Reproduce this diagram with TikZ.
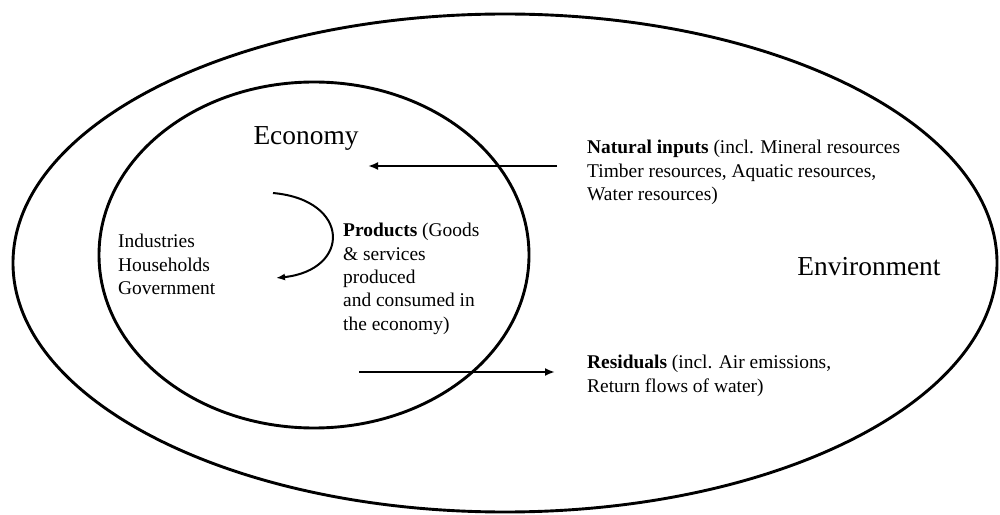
\documentclass[tikz,border=0pt]{standalone}
\usepackage{fontspec}
\setmainfont{Liberation Serif}
\usetikzlibrary{arrows.meta}
\tikzset{
  ring/.style={draw=black, line width=2.9bp},
  flow/.style={draw=black, line width=2.6bp, -{Latex[length=10bp,width=8bp]}},
  loopflow/.style={draw=black, line width=2bp, -{Latex[length=9bp,width=7bp]}},
  body/.style={inner sep=0pt, anchor=north west, align=left, font=\fontsize{19.5}{23.5}\selectfont},
  big/.style={inner sep=0pt, anchor=base, font=\fontsize{27.5}{30}\selectfont}
}
\begin{document}
\begin{tikzpicture}[x=1bp,y=-1bp]
\useasboundingbox (0,0) rectangle (1000,515);
% outer and inner ellipses
\draw[ring] (505,263) ellipse [x radius=492, y radius=249];
\draw[ring] (314,255) ellipse [x radius=215, y radius=173];
% labels
\node[big] (eco) at (306,145) {Economy};
\node[big] (env) at (869,276) {Environment};
\node[body] (units) at (118,234) {Industries\\Households\\Government};
\node[body] (prod) at (343,223) {\textbf{Products} (Goods\\\& services\\produced\\and consumed in\\the economy)};
\node[body] (nat) at (587,140) {\textbf{Natural inputs} (incl. Mineral resources\\Timber resources, Aquatic resources,\\Water resources)};
\node[body] (res) at (587,355) {\textbf{Residuals} (incl. Air emissions,\\Return flows of water)};
% connector end points
\coordinate (natS) at (557,166);
\coordinate (natE) at (368,166);
\coordinate (resS) at (359,372);
\coordinate (resE) at (555,372);
\coordinate (loopS) at (273,193);
\coordinate (loopE) at (276,278);
% connectors
\draw[flow] (natS) -- (natE);
\draw[flow] (resS) -- (resE);
\draw[loopflow] (loopS) .. controls (351,200) and (351,270) .. (loopE);
\end{tikzpicture}
\end{document}
